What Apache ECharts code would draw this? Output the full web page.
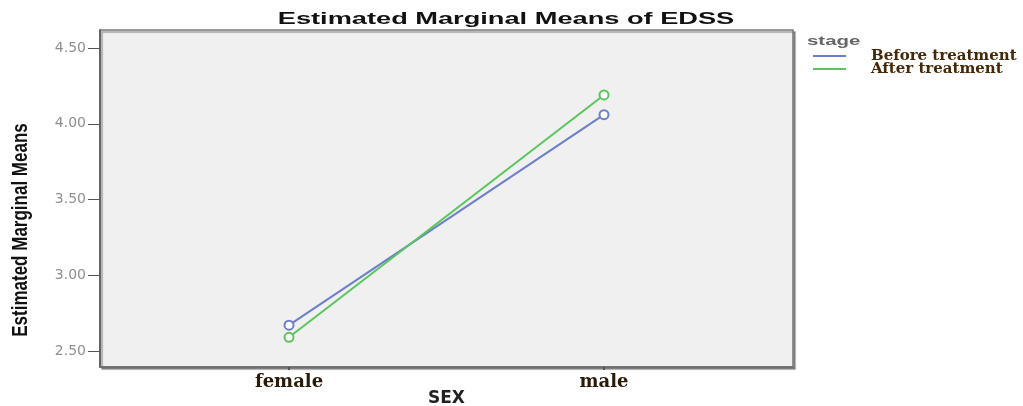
<!DOCTYPE html>
<html>
<head>
<meta charset="utf-8">
<script src="https://cdn.jsdelivr.net/npm/echarts@6/dist/echarts.min.js"></script>
<style>html,body{margin:0;padding:0;background:#fff}#c{width:1023px;height:406px}</style>
</head>
<body>
<div id="c"></div>
<script>
const categories = ['female', 'male'];
const beforeValues = [2.67, 4.06];
const afterValues = [2.59, 4.19];
const seriesNames = ['Before treatment', 'After treatment'];
const yTicks = [2.5, 3.0, 3.5, 4.0, 4.5];

const chart = echarts.init(document.getElementById('c'));
const toPairs = vals => vals.map((v, i) => [i, v]);

chart.setOption({
  animation: false,
  backgroundColor: '#ffffff',
  grid: {
    left: 100, right: 230, top: 30, bottom: 39, outerBoundsMode: 'none', containLabel: false,
    show: true, backgroundColor: '#f0f0f0', borderColor: '#777', borderWidth: 1.5,
    shadowColor: 'rgba(0,0,0,0.35)', shadowOffsetX: 2, shadowOffsetY: 2, shadowBlur: 1
  },
  legend: {
    orient: 'vertical', left: 808, top: 42,
    itemWidth: 33, itemHeight: 2, itemGap: -5, icon: 'rect',
    data: seriesNames,
    textStyle: { fontFamily: 'DejaVu Serif, serif', fontWeight: 'bold', fontSize: 15, color: '#452808', padding: [0, 0, 14, 20], lineHeight: 4 }
  },
  graphic: [
    { type: 'text', x: 506, y: 20, scaleX: 1.7, style: { text: 'Estimated Marginal Means of EDSS', fontFamily: 'Liberation Sans, Arial, sans-serif', fontWeight: 'bold', fontSize: 16, fill: '#111', align: 'center', verticalAlign: 'middle' } },
    { type: 'text', x: 807, y: 42, scaleX: 1.7, style: { text: 'stage', fontFamily: 'Liberation Sans, Arial, sans-serif', fontWeight: 'bold', fontSize: 12, fill: '#666', align: 'left', verticalAlign: 'middle' } },
    { type: 'text', x: 21, y: 230, rotation: Math.PI / 2, scaleY: 1.25, style: { text: 'Estimated Marginal Means', fontFamily: 'Liberation Sans, Arial, sans-serif', fontWeight: 'bold', fontSize: 17, fill: '#111', align: 'center', verticalAlign: 'middle' } }
  ],
  xAxis: {
    type: 'value', min: -0.6, max: 1.6,
    name: 'SEX', nameLocation: 'middle', nameGap: 23, nameMoveOverlap: false,
    nameTextStyle: { fontFamily: 'DejaVu Sans, sans-serif', fontWeight: 'bold', fontSize: 17, color: '#222' },
    splitLine: { show: false },
    axisLine: { show: true, onZero: false, lineStyle: { color: '#6a6a6a', width: 1.5 } },
    axisTick: { show: true, length: 3, customValues: [0, 1], lineStyle: { color: '#555', width: 2 } },
    axisLabel: {
      customValues: [0, 1], margin: 6,
      formatter: v => categories[Math.round(v)] || '',
      fontFamily: 'DejaVu Serif, serif', fontWeight: 'bold', fontSize: 18, color: '#2a1a0a'
    }
  },
  yAxis: {
    type: 'value', min: 2.394, max: 4.619,
    splitLine: { show: false },
    axisLine: { show: true, onZero: false, lineStyle: { color: '#555', width: 1.5 } },
    axisTick: { show: true, length: 12, customValues: yTicks, lineStyle: { color: '#555', width: 1 } },
    axisLabel: {
      customValues: yTicks, margin: 14,
      formatter: v => v.toFixed(2),
      fontFamily: 'DejaVu Sans, sans-serif', fontSize: 14, color: '#8f8f8f'
    }
  },
  series: [
    { name: seriesNames[0], type: 'line', data: toPairs(beforeValues), symbol: 'emptyCircle', symbolSize: 9,
      lineStyle: { color: '#6b7fcb', width: 2 }, itemStyle: { color: '#6b7fcb', borderWidth: 1.5 } },
    { name: seriesNames[1], type: 'line', data: toPairs(afterValues), symbol: 'emptyCircle', symbolSize: 9,
      lineStyle: { color: '#58c65a', width: 2 }, itemStyle: { color: '#58c65a', borderWidth: 1.5 } }
  ]
});
</script>
</body>
</html>
